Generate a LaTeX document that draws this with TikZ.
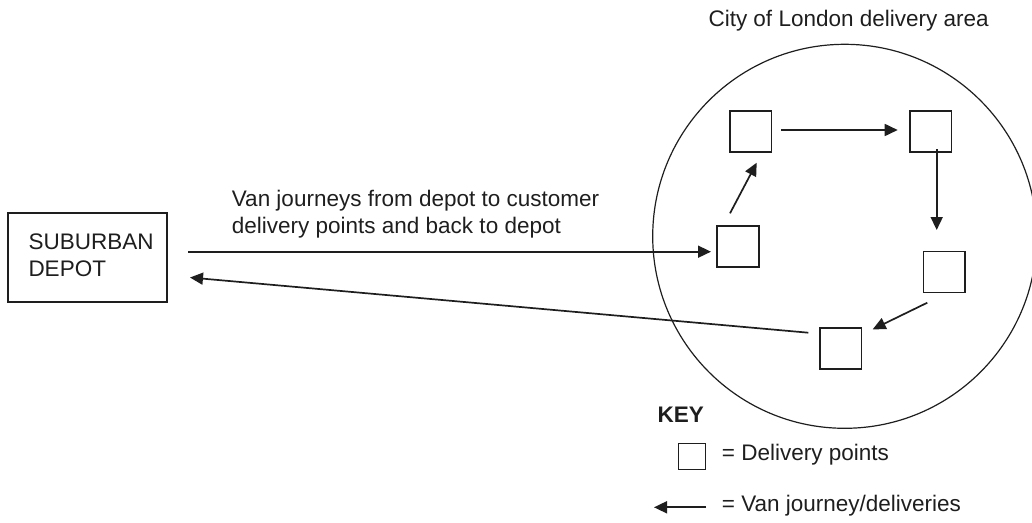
\documentclass[tikz,border=0pt]{standalone}
\usepackage{fontspec}
\setmainfont{Liberation Sans}
\usetikzlibrary{arrows.meta}
\definecolor{ink}{HTML}{1E1E1E}
\tikzset{
  lbl/.style={inner sep=0pt, anchor=base west, text=ink, font=\fontsize{22.5}{26.7}\selectfont},
  dpoint/.style={draw=ink, line width=1.6pt, minimum width=41.5pt, minimum height=41pt, inner sep=0pt},
  van/.style={draw=ink, line width=1.7pt, -{Triangle[length=13pt,width=12pt]}},
}
\begin{document}
\begin{tikzpicture}[x=1pt,y=-1pt]
\useasboundingbox (0,0) rectangle (1032,522);
% circle
\node (area) [draw=ink, line width=1.2pt, circle, minimum size=384pt, inner sep=0pt] at (844.7,236.3) {};
\node (title) [lbl] at (708.3,26) {City of London delivery area};
% depot
\node (depot) [draw=ink, line width=2pt, minimum width=158.4pt, minimum height=88.4pt, inner sep=0pt] at (87.5,257.5) {};
\node (dep1) [lbl] at (28.3,249.3) {SUBURBAN};
\node (dep2) [lbl] at (28.3,276) {DEPOT};
% journey label
\node (j1) [lbl] at (231.7,206.7) {Van journeys from depot to customer};
\node (j2) [lbl] at (231.7,233.3) {delivery points and back to depot};
% delivery points
\node (pL) [dpoint] at (738,246.3) {};
\node (pTL) [dpoint] at (750.8,131.3) {};
\node (pTR) [dpoint] at (930.8,131.3) {};
\node (pR) [dpoint] at (944.1,272) {};
\node (pB) [dpoint] at (840.8,348.7) {};
% connector end points
\coordinate (outS) at (188.3,251.7);
\coordinate (outE) at (711,251.7);
\coordinate (d1S) at (730,213.3);
\coordinate (d1E) at (756.7,162.7);
\coordinate (tS) at (781,130);
\coordinate (tE) at (897.7,130);
\coordinate (vS) at (936.7,149);
\coordinate (vE) at (936.7,230);
\coordinate (d2S) at (927.3,302.7);
\coordinate (d2E) at (872.7,329.3);
\coordinate (rS) at (808.3,332.7);
\coordinate (rE) at (190,277.5);
\draw[van] (outS) -- (outE);
\draw[van] (d1S) -- (d1E);
\draw[van] (tS) -- (tE);
\draw[van] (vS) -- (vE);
\draw[van] (d2S) -- (d2E);
\draw[van] (rS) -- (rE);
% key
\node (key) [lbl, font=\fontsize{22.5}{26.7}\selectfont\bfseries] at (657.3,422.7) {KEY};
\node (kbox) [draw=ink, line width=1.6pt, minimum width=27pt, minimum height=26pt, inner sep=0pt] at (691.8,456.3) {};
\node (kbt) [lbl] at (721.7,460.5) {= Delivery points};
\coordinate (kaS) at (706,507.3);
\coordinate (kaE) at (654,507.3);
\draw[van] (kaS) -- (kaE);
\node (kat) [lbl] at (721.7,511.3) {= Van journey/deliveries};
\end{tikzpicture}
\end{document}
